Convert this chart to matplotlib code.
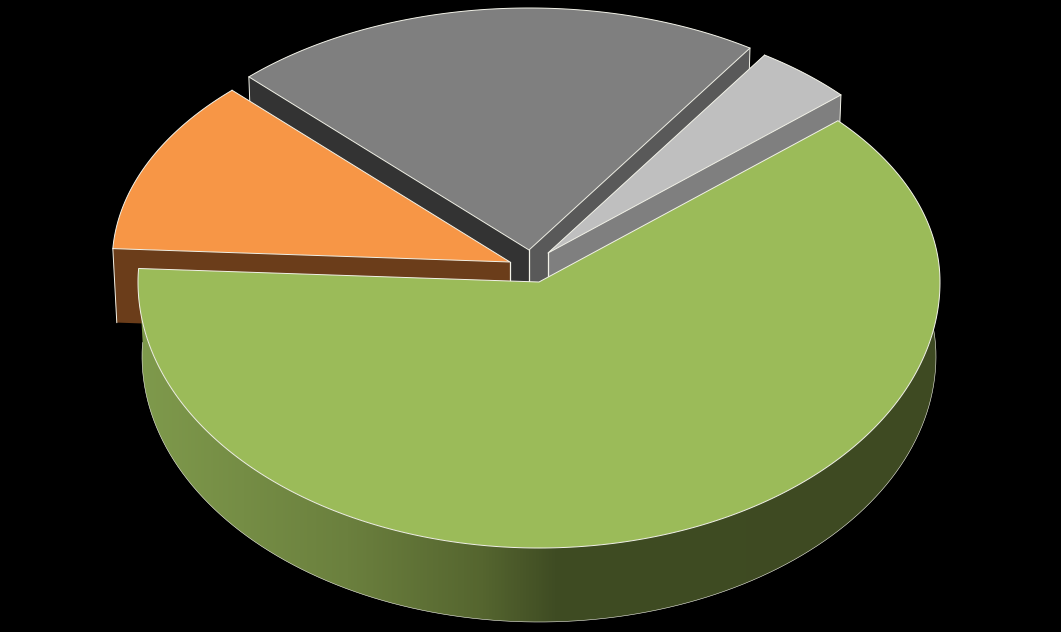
#!/usr/bin/env python3
"""3D style exploded pie chart on black"""

import numpy as np
import matplotlib
matplotlib.use("Agg")
import matplotlib.pyplot as plt
from matplotlib.colors import LinearSegmentedColormap
from matplotlib.patches import Polygon

# slices, clockwise from the start angle
names = ["green", "orange", "gray", "light gray"]
values = [62.5, 11.8, 21.6, 4.1]

top_colors = ["#9bbb59", "#f79646", "#7f7f7f", "#bfbfbf"]
start_face_colors = ["#3d4a22", "#6b3d1a", "#333333", "#7f7f7f"]
end_face_colors = ["#3d4a22", "#6b3d1a", "#595959", "#7f7f7f"]
wall_colors = [None, "#6b3d1a", "#333333", "#7f7f7f"]
explode_x = [0, -29, -10, 9]
explode_y = [0, -20, -32, -29]
radius_scale = [1.0, 0.992, 1.0, 0.98]
draw_order = [2, 3, 1, 0]

W, H = 1061, 632
CX, CY = 539, 282
RX = 401
RY_BACK, RY_FRONT = 242, 266  # the back half is foreshortened
DEPTH = 74
TAPER = 0.99
START = 41.8
EDGE = "#f2f2e8"


def rim(a1, a2, dx, dy, scale):
    t = np.radians(np.linspace(a1, a2, 300))
    ry = np.where(np.sin(t) > 0, RY_BACK, RY_FRONT)
    return np.column_stack([CX + dx + scale * RX * np.cos(t),
                            CY + dy - scale * ry * np.sin(t)])


def drop(pts, dx, dy):
    out = pts.copy()
    out[:, 0] = CX + dx + (pts[:, 0] - CX - dx) * TAPER
    out[:, 1] = pts[:, 1] + DEPTH
    return out


fig = plt.figure(figsize=(W / 100, H / 100), dpi=100, facecolor="black")
ax = fig.add_axes([0, 0, 1, 1])
ax.set_xlim(0, W)
ax.set_ylim(H, 0)
ax.axis("off")

fracs = np.array(values) / sum(values) * 360
ends = START - np.cumsum(fracs)
starts = ends + fracs

green_ramp = LinearSegmentedColormap.from_list(
    "ramp", [(0, "#7f9a4c"), (0.26, "#6b803e"), (0.43, "#55652f"), (0.52, "#3f4c23"), (1, "#3e4a22")])

for i in draw_order:
    dx, dy = explode_x[i], explode_y[i]
    z = 10 + draw_order.index(i) * 10
    arc = rim(starts[i], ends[i], dx, dy, radius_scale[i])
    apex = np.array([[CX + dx, CY + dy]])
    low_arc = drop(arc, dx, dy)
    low_apex = drop(apex, dx, dy)

    # outer wall
    wall = Polygon(np.vstack([arc, low_arc[::-1]]), closed=True, lw=0, zorder=z)
    if wall_colors[i] is None:
        wall.set_facecolor("none")
        ax.add_patch(wall)
        img = ax.imshow(np.linspace(0, 1, 512)[None, :], cmap=green_ramp, aspect="auto",
                        extent=[CX - RX, CX + RX, H, 0], vmin=0, vmax=1, zorder=z)
        img.set_clip_path(wall)
        ax.plot(low_arc[:, 0], low_arc[:, 1], color=EDGE, lw=0.4, zorder=z + 1)
    else:
        wall.set_facecolor(wall_colors[i])
        ax.add_patch(wall)

    # cut faces, skipped for the slice that is not pulled out
    if dx or dy:
        for pt, low, col in [(arc[0:1], low_arc[0:1], start_face_colors[i]),
                             (arc[-1:], low_arc[-1:], end_face_colors[i])]:
            face = np.vstack([apex, pt, low, low_apex])
            ax.add_patch(Polygon(face, closed=True, fc=col, ec="none", lw=0, zorder=z + 1))
            ax.plot([pt[0, 0], low[0, 0]], [pt[0, 1], low[0, 1]], color=EDGE, lw=0.7, zorder=z + 2)
        ax.plot([apex[0, 0], low_apex[0, 0]], [apex[0, 1], low_apex[0, 1]],
                color=EDGE, lw=0.9, zorder=z + 2)

    # top surface
    top = np.vstack([apex, arc])
    ax.add_patch(Polygon(top, closed=True, fc=top_colors[i], ec=EDGE, lw=0.7,
                         joinstyle="round", zorder=z + 3))

fig.savefig("out.png", dpi=100, facecolor="black")
